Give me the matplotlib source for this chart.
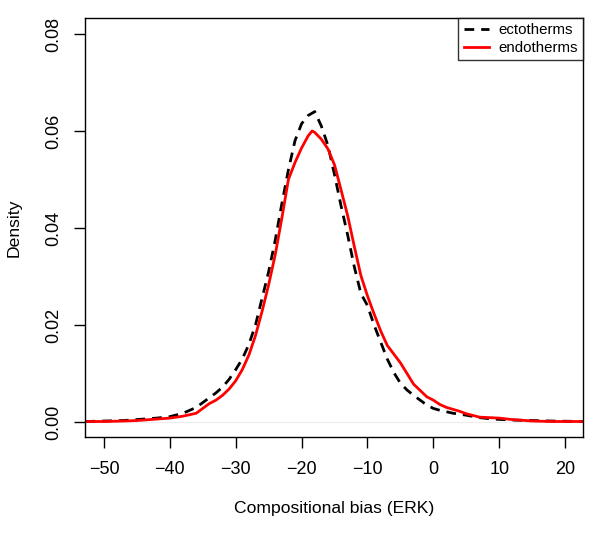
import matplotlib.pyplot as plt

plt.rcParams['font.family'] = ['Liberation Sans', 'DejaVu Sans']

# density estimates
ecto_x = [-52.8, -50, -47, -45, -42, -40, -38, -36, -35, -34, -33, -32, -31, -30,
          -29, -28, -27, -26, -25, -24, -23, -22, -21, -20, -19, -18, -17, -16,
          -15, -14, -13, -12, -11, -10, -9, -8, -7, -6, -5, -4, -3, -2, -1, 0,
          1, 2, 3, 4, 5, 7, 9, 12, 15, 18, 22.7]
ecto_y = [0.0001, 0.0002, 0.0003, 0.0005, 0.0008, 0.0011, 0.0018, 0.0030, 0.0040,
          0.0050, 0.0060, 0.0072, 0.0088, 0.0108, 0.0130, 0.0160, 0.0200, 0.0255,
          0.0310, 0.0375, 0.0450, 0.0520, 0.0580, 0.0615, 0.0632, 0.0640, 0.0610,
          0.0570, 0.0510, 0.0445, 0.0385, 0.0320, 0.0265, 0.0240, 0.0200, 0.0165,
          0.0130, 0.0102, 0.0080, 0.0066, 0.0055, 0.0045, 0.0035, 0.0028, 0.0024,
          0.0021, 0.0018, 0.0016, 0.0014, 0.0009, 0.0006, 0.0004, 0.0003, 0.0002,
          0.0001]

endo_x = [-52.8, -50, -47, -45, -42, -40, -38, -36, -35, -34, -33, -32, -31, -30,
          -29, -28, -27, -26, -25, -24, -23, -22, -21, -20, -19, -18.4, -18, -17,
          -16, -15, -14, -13, -12, -11, -10, -9, -8, -7, -6, -5, -4, -3, -2, -1,
          0, 1, 2, 3, 4, 5, 7, 10, 12, 15, 18, 22.7]
endo_y = [0.0001, 0.0001, 0.0002, 0.0003, 0.0006, 0.0008, 0.0012, 0.0018, 0.0028,
          0.0038, 0.0045, 0.0055, 0.0068, 0.0085, 0.0108, 0.0138, 0.0178, 0.0228,
          0.0283, 0.0345, 0.0420, 0.0500, 0.0535, 0.0565, 0.0590, 0.0600, 0.0597,
          0.0583, 0.0563, 0.0530, 0.0478, 0.0425, 0.0362, 0.0302, 0.0260, 0.0223,
          0.0188, 0.0158, 0.0140, 0.0122, 0.0100, 0.0078, 0.0065, 0.0052, 0.0045,
          0.0036, 0.0030, 0.0026, 0.0022, 0.0017, 0.0010, 0.0008, 0.0005, 0.0002,
          0.0001, 0.0001]

xticks = [-50, -40, -30, -20, -10, 0, 10, 20]
yticks = [0.00, 0.02, 0.04, 0.06, 0.08]

fig = plt.figure(figsize=(6, 5.4), dpi=100)
ax = fig.add_axes([0.1425, 0.1907, 0.829, 0.776])

ax.axhline(0, color='#ececec', lw=0.8, zorder=0)
ax.plot(ecto_x, ecto_y, color='black', lw=2, ls=(0, (3.5, 2.5)), label='ectotherms')
ax.plot(endo_x, endo_y, color='red', lw=2, label='endotherms')

ax.set_xlim(-52.8, 22.7)
ax.set_ylim(-0.0031, 0.0833)
ax.set_xticks(xticks)
ax.set_xticklabels([str(t).replace('-', '\u2212') for t in xticks])
ax.set_yticks(yticks)
ax.set_yticklabels(['%.2f' % t for t in yticks], rotation=90, va='center')
ax.tick_params(direction='out', length=8, width=1, labelsize=13, pad=9)
for s in ax.spines.values():
    s.set_linewidth(1)

ax.set_xlabel('Compositional bias (ERK)', fontsize=12.6, labelpad=17)
ax.set_ylabel('Density', fontsize=12.6, labelpad=17)

leg = ax.legend(loc='upper right', fontsize=10.8, frameon=True, fancybox=False,
                borderaxespad=0, handlelength=1.7, handletextpad=0.6,
                borderpad=0.35, labelspacing=0.25)
leg.get_frame().set_edgecolor('black')
leg.get_frame().set_linewidth(1)

plt.savefig('out.png', dpi=100)
